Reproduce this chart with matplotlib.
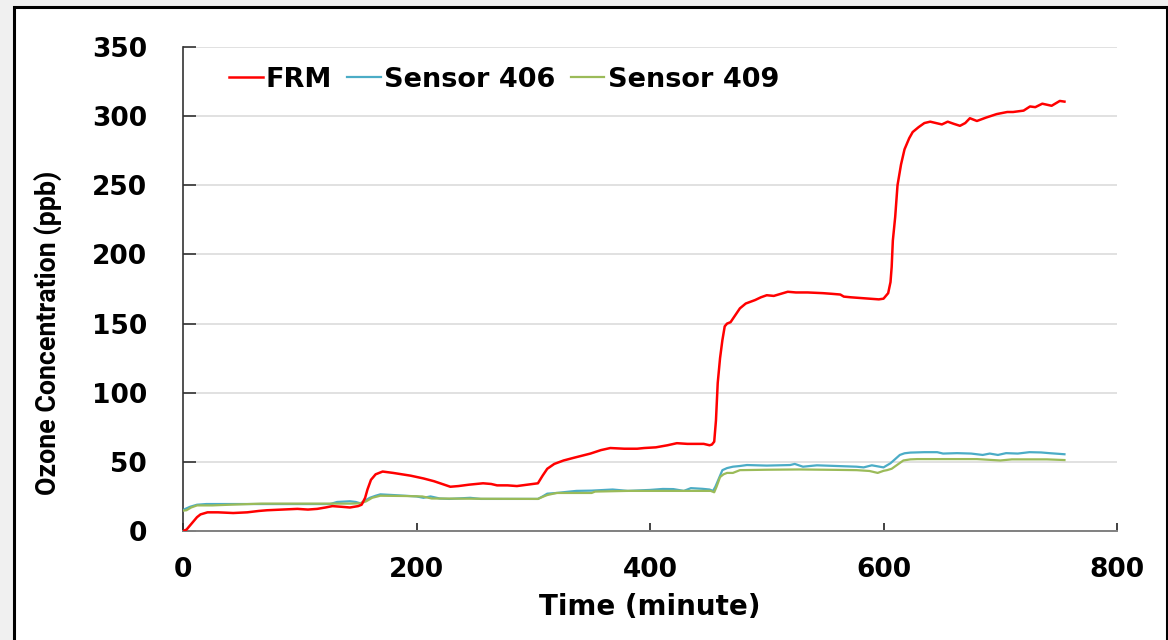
import matplotlib
matplotlib.use("Agg")
import matplotlib.pyplot as plt
from matplotlib.patches import Rectangle

# FRM reference (red)
frm_t = [0, 3, 8, 12, 15, 21, 30, 43, 55, 65, 72, 85, 98, 107, 115, 122, 128, 136, 143,
         150, 153, 156, 158, 161, 165, 171, 180, 195, 206, 215, 222, 229, 236, 245, 257,
         264, 269, 278, 286, 295, 304, 308, 312, 318, 326, 335, 349, 358, 366, 378, 389,
         395, 405, 415, 423, 432, 446, 451, 453, 455, 456.5, 458, 460, 462, 464, 466, 469,
         473, 477, 482, 490, 495, 500, 506, 512, 518, 525, 535, 548, 556, 563, 566, 572,
         580, 588, 596, 600, 604, 606, 607, 608, 610, 612, 615, 618, 622, 625, 630, 635,
         640, 645, 650, 655, 660, 665.5, 670, 674, 680, 688, 697, 706, 711, 720, 725.5,
         730, 736, 744, 751, 755]
frm_v = [0, 1, 6, 10, 12, 13.5, 13.5, 13, 13.5, 14.5, 15, 15.5, 16, 15.5, 16, 17, 18, 17.5, 17,
         18, 19, 24, 30, 37, 41, 43, 42, 40, 38, 36, 34, 32, 32.5, 33.5, 34.5,
         34, 33, 33, 32.5, 33.5, 34.5, 40, 45, 48.5, 51, 53, 56, 58.5, 60, 59.5, 59.5,
         60, 60.5, 62, 63.5, 63, 63, 62, 62.5, 64.6, 80, 107, 125, 138, 148, 150, 151,
         156, 161, 164.5, 167, 169, 170.5, 170, 171.5, 173, 172.5, 172.5, 172, 171.5, 171, 169.5, 169,
         168.5, 168, 167.5, 168, 172, 180, 191, 210, 227, 250, 265, 276, 284, 288.5, 292, 295,
         296, 295, 294, 296, 294.5, 293, 295, 298.5, 296.5, 299, 301.5, 303, 303, 304, 307,
         306.5, 309, 307.5, 311, 310.5]

# Sensor 406 (blue)
s406_t = [0, 2, 6, 12, 20, 29, 60, 90, 126, 132, 143, 148, 152, 156, 160, 165, 169, 180,
          200, 206, 212, 220, 228, 246, 255, 304, 308, 312, 320, 331, 337, 350, 368, 381,
          400, 411, 420, 429, 435, 445, 451, 454, 456, 459, 462, 466, 471, 477, 483, 500,
          520, 524, 531, 543, 560, 577, 583, 590, 600, 606, 610, 614, 618, 623, 635, 646,
          651, 663, 675, 685, 691, 698, 705, 715, 725, 735, 742, 755]
s406_v = [15, 16, 17.5, 19, 19.5, 19.5, 19.5, 19.5, 19.5, 21, 21.5, 21, 20, 22, 24, 25.5, 26.5, 26,
          25, 24, 25, 23.5, 23.2, 24, 23.2, 23.2, 25, 27, 27.5, 28.5, 29, 29.2, 30, 29,
          29.7, 30.4, 30.3, 29, 31, 30.5, 30, 29, 32, 38, 44, 45.5, 46.5, 47, 47.7, 47.3,
          47.7, 48.5, 46.5, 47.5, 47, 46.5, 46, 47.5, 46, 49, 52, 55, 56.2, 56.7, 57, 57,
          56, 56.3, 56, 55, 56, 55, 56.3, 56, 57, 56.8, 56.3, 55.5]

# Sensor 409 (green)
s409_t = [0, 3, 7, 12, 25, 40, 67, 100, 143, 152, 157, 162, 169, 190, 205, 213, 260, 304,
          309, 312, 320, 350, 353, 381, 420, 452, 455, 457, 460, 463, 466, 471, 477, 500,
          528, 560, 577, 588, 595, 600, 603, 607, 612, 617, 623, 629, 680, 700, 710, 740, 755]
s409_v = [14.7, 15, 17, 18.5, 18.5, 19, 19.8, 19.8, 19.8, 20, 21.5, 24, 25.5, 25.3, 25, 23.5, 23.3, 23.2,
          25, 26, 27.5, 27.5, 28.5, 29, 29, 29, 28, 32, 39, 41, 42, 42, 44, 44.3,
          44.5, 44.2, 44, 43.4, 42, 43.5, 44, 45, 48, 51, 51.8, 52, 52, 51, 51.8, 51.8, 51.3]

x_ticks = [0, 200, 400, 600, 800]
y_ticks = [0, 50, 100, 150, 200, 250, 300, 350]

fig = plt.figure(figsize=(11.68, 6.4), dpi=100, facecolor="#f0f0f0")

# white sheet with black frame around the chart
frame = Rectangle((13.5 / 1168, -0.05), (1166.5 - 13.5) / 1168, 1.05 - 6.5 / 640,
                  transform=fig.transFigure, facecolor="white", edgecolor="black",
                  linewidth=2.2, zorder=-10)
fig.patches.append(frame)

ax = fig.add_axes([183 / 1168, 1 - 531 / 640, 934 / 1168, 484 / 640])
ax.set_zorder(1)
ax.set_facecolor("none")

ax.plot(s406_t, s406_v, color="#4bacc6", lw=1.6, label="Sensor 406", zorder=3)
ax.plot(s409_t, s409_v, color="#9bbb59", lw=1.6, label="Sensor 409", zorder=3)
ax.plot(frm_t, frm_v, color="#ff0000", lw=1.8, label="FRM", zorder=4)

ax.set_xlim(0, 800)
ax.set_ylim(0, 350)
ax.set_xticks(x_ticks)
ax.set_yticks(y_ticks)
ax.grid(axis="y", color="#d9d9d9", lw=1.1, zorder=0)
ax.set_axisbelow(True)

for s in ["top", "right"]:
    ax.spines[s].set_visible(False)
ax.spines["left"].set_color("#333333")
ax.spines["left"].set_linewidth(1.2)
ax.spines["bottom"].set_color("#808080")
ax.spines["bottom"].set_linewidth(1.4)

ax.tick_params(axis="y", direction="in", length=9, width=1.2, color="#333333", pad=26,
               labelsize=19)
ax.tick_params(axis="x", direction="in", length=6, width=1.2, color="#222222", pad=19,
               labelsize=19)
for lab in ax.get_xticklabels() + ax.get_yticklabels():
    lab.set_fontweight("bold")

ax.set_xlabel("Time (minute)", fontsize=20, fontweight="bold", va="center")
ax.xaxis.set_label_coords(0.5, -0.157)
ax.set_ylabel("Ozone Concentration (ppb)", fontsize=19.3, fontweight="bold", va="center",
              family=["Liberation Sans Narrow", "Roboto", "DejaVu Sans"])
ax.yaxis.set_label_coords(-0.145, 0.41)

h, l = ax.get_legend_handles_labels()
order = [2, 0, 1]
leg = ax.legend([h[i] for i in order], [l[i] for i in order], ncol=3, frameon=False,
                loc="center left", bbox_to_anchor=(0.049, 0.932), borderaxespad=0,
                borderpad=0, handlelength=1.25, handletextpad=0.12, columnspacing=0.55,
                prop={"size": 19.5, "weight": "bold"})

fig.savefig("out.png", dpi=100, facecolor=fig.get_facecolor())
